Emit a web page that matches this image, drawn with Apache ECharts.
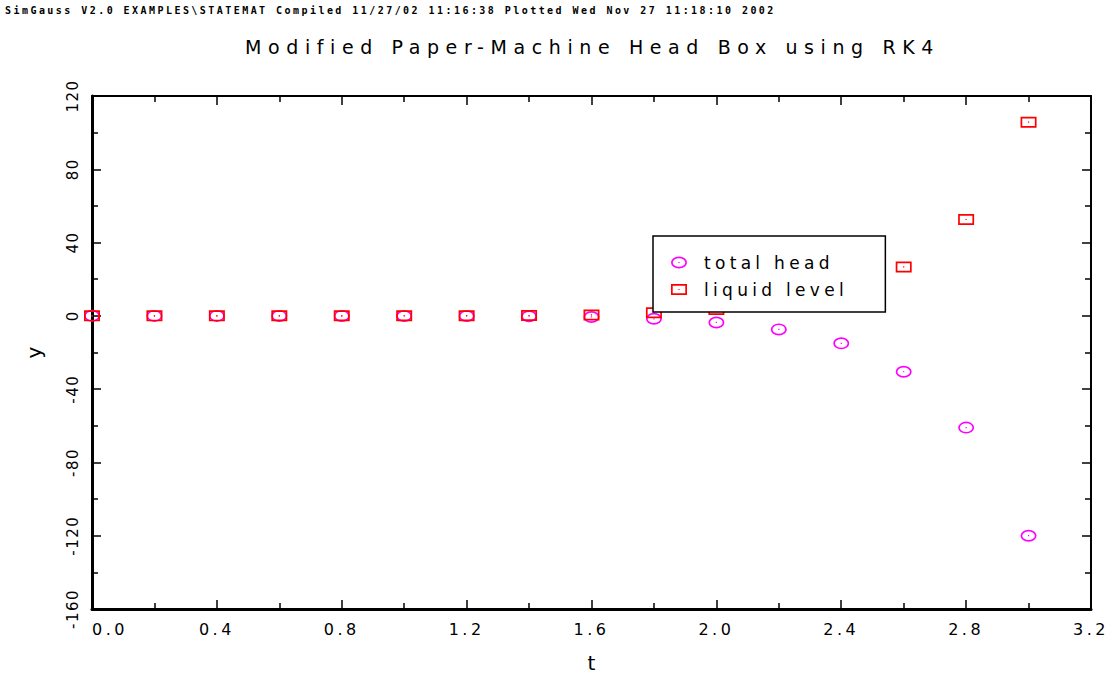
<!DOCTYPE html>
<html>
<head>
<meta charset="utf-8">
<script src="https://cdn.jsdelivr.net/npm/echarts@6/dist/echarts.min.js"></script>
<style>
html,body{margin:0;padding:0;background:#fff;}
#c{width:1117px;height:678px;}
#c text[style*="10px"]{letter-spacing:2.45px;}
#c text[style*="19px"]{letter-spacing:6.6px;}
#c text[style*="16px"]{letter-spacing:3.5px;}
#c text[style*="15px"]{letter-spacing:1.5px;}
#c text[style*="17px"]{letter-spacing:4.3px;}
#c text[style*="20px"]{letter-spacing:0px;}
</style>
</head>
<body>
<div id="c"></div>
<script>
// ---- data ----
const headerText = 'SimGauss V2.0 EXAMPLES\\STATEMAT Compiled 11/27/02 11:16:38 Plotted Wed Nov 27 11:18:10 2002';
const titleText = 'Modified Paper-Machine Head Box using RK4';
const seriesNames = ['total head', 'liquid level'];
const tValues = [0, 0.2, 0.4, 0.6, 0.8, 1.0, 1.2, 1.4, 1.6, 1.8, 2.0, 2.2, 2.4, 2.6, 2.8, 3.0];
const totalHead = [0, -0.01, -0.01, -0.02, -0.03, -0.05, -0.09, -0.2, -0.6, -1.6, -3.6, -7.4, -15, -30.5, -61, -120];
const liquidLevel = [0, 0.01, 0.01, 0.02, 0.03, 0.05, 0.09, 0.2, 0.5, 1.7, 3.5, 6.8, 13.4, 26.7, 52.6, 105.7];
const xTicks = {min: 0, max: 3.2, interval: 0.4};
const yTicks = {min: -160, max: 120, interval: 40};
const xName = 't';
const yName = 'y';

// ---- chart ----
const circlePath = 'path://M0,6A8,6,0,1,1,16,6A8,6,0,1,1,0,6Z M1.7,6A6.3,4.3,0,1,0,14.3,6A6.3,4.3,0,1,0,1.7,6Z M7.4,5.4h1.2v1.2h-1.2Z';
const squarePath = 'path://M0,0H16V11H0Z M1.7,1.7V9.3H14.3V1.7Z M7.4,4.9h1.2v1.2h-1.2Z';

const pairs = (xs, ys) => xs.map((x, i) => [x, ys[i]]);
const FONT = 'DejaVu Sans';

function axisCommon(isX, main) {
  const tk = isX ? xTicks : yTicks;
  return {
    type: 'value',
    min: tk.min, max: tk.max, interval: tk.interval,
    scale: true,
    splitLine: {show: false},
    axisLine: {show: true, onZero: false, lineStyle: {color: '#000', width: main ? 3 : 2}},
    axisTick: {show: true, inside: true, length: 9, lineStyle: {color: '#000', width: 1.5}},
    minorTick: {show: true, splitNumber: 2, length: 6, lineStyle: {color: '#000', width: 1.5}},
    axisLabel: {show: false}
  };
}

const chart = echarts.init(document.getElementById('c'), null, {renderer: 'svg'});
chart.setOption({
  animation: false,
  backgroundColor: '#fff',
  title: [
    {text: headerText, left: 5, top: 5, padding: 0,
     textStyle: {fontFamily: 'DejaVu Sans Mono', fontWeight: 'bold', fontSize: 10, color: '#000'}},
    {text: titleText, left: 245, top: 37, padding: 0,
     textStyle: {fontFamily: FONT, fontWeight: 'normal', fontSize: 19, color: '#000'}}
  ],
  grid: {left: 92, right: 26, top: 96, bottom: 67},
  xAxis: [
    Object.assign(axisCommon(true, true), {
      position: 'bottom',
      name: xName, nameLocation: 'middle', nameGap: 44,
      nameTextStyle: {fontFamily: FONT, fontSize: 20, color: '#000'},
      axisLabel: {show: true, margin: 12, color: '#000', fontFamily: FONT, fontSize: 16,
                  alignMinLabel: 'left',
                  formatter: v => v.toFixed(1)}
    }),
    Object.assign(axisCommon(true, false), {position: 'top'})
  ],
  yAxis: [
    Object.assign(axisCommon(false, true), {
      position: 'left',
      name: yName, nameLocation: 'middle', nameGap: 48,
      nameTextStyle: {fontFamily: FONT, fontSize: 20, color: '#000'},
      axisLabel: {show: true, rotate: 90, margin: 12, color: '#000', fontFamily: FONT, fontSize: 15,
                  formatter: v => String(v)}
    }),
    Object.assign(axisCommon(false, false), {position: 'right'})
  ],
  legend: {
    orient: 'vertical',
    left: 653, top: 236,
    padding: [18, 89, 14, 18],
    itemGap: 10,
    itemWidth: 16, itemHeight: 12,
    backgroundColor: '#fff',
    borderColor: '#000', borderWidth: 1.5, borderRadius: 0,
    textStyle: {fontFamily: FONT, fontSize: 17, color: '#000', padding: [0, 0, 0, 12]},
    data: [
      {name: seriesNames[0], icon: circlePath},
      {name: seriesNames[1], icon: squarePath}
    ]
  },
  series: [
    {name: seriesNames[0], type: 'scatter', xAxisIndex: 0, yAxisIndex: 0,
     symbol: circlePath, symbolSize: [16, 12],
     itemStyle: {color: '#ff00ff', opacity: 1},
     data: pairs(tValues, totalHead)},
    {name: seriesNames[1], type: 'scatter', xAxisIndex: 0, yAxisIndex: 0,
     symbol: squarePath, symbolSize: [16, 11],
     itemStyle: {color: '#ff0000', opacity: 1},
     data: pairs(tValues, liquidLevel)}
  ]
});
</script>
</body>
</html>
